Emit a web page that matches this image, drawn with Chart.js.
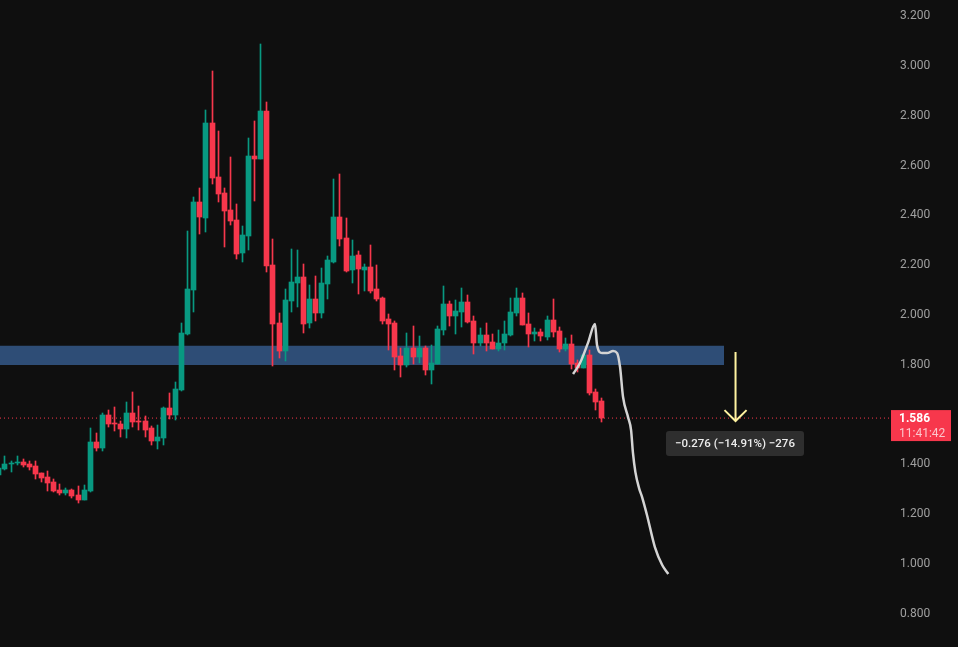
<!DOCTYPE html>
<html>
<head>
<meta charset="utf-8">
<title>Chart</title>
<script src="https://cdn.jsdelivr.net/npm/chart.js@4"></script>
<style>
  html, body { margin: 0; padding: 0; background: #0f0f0f; overflow: hidden; }
  canvas { display: block; }
</style>
</head>
<body>
<canvas id="chart" width="958" height="647"></canvas>
<script>
// price data, one entry per candle
const opens = [1.357,1.382,1.402,1.406,1.410,1.402,1.394,1.365,1.349,1.329,1.297,1.285,1.297,1.277,1.257,1.293,1.490,1.466,1.598,1.566,1.562,1.542,1.606,1.574,1.574,1.546,1.494,1.506,1.627,1.598,
  1.699,1.924,2.100,2.454,2.390,2.771,2.554,2.490,2.422,2.382,2.249,2.317,2.639,2.626,2.819,2.201,1.968,1.855,2.056,2.129,2.153,1.968,2.064,2.008,2.124,2.213,2.394,2.309,2.181,2.241,
  2.181,2.193,2.104,2.068,1.984,1.968,1.835,1.799,1.867,1.831,1.867,1.779,1.803,1.940,2.044,1.996,2.012,2.052,1.976,1.888,1.920,1.892,1.863,1.888,1.920,2.008,2.068,1.964,1.924,1.932,
  1.912,1.980,1.936,1.863,1.884,1.807,1.787,1.839,1.691,1.655];
const highs = [1.386,1.434,1.414,1.434,1.422,1.414,1.414,1.365,1.374,1.341,1.321,1.305,1.301,1.313,1.317,1.546,1.526,1.606,1.618,1.631,1.574,1.651,1.691,1.635,1.594,1.554,1.558,1.631,1.687,1.731,
  1.968,2.337,2.474,2.510,2.823,2.980,2.739,2.510,2.635,2.446,2.357,2.711,2.779,3.088,2.855,2.305,2.008,2.104,2.265,2.261,2.205,2.120,2.157,2.189,2.237,2.546,2.566,2.390,2.301,2.257,
  2.205,2.281,2.201,2.072,2.004,1.976,1.867,1.928,1.956,1.916,1.876,1.880,1.956,2.116,2.056,2.060,2.108,2.080,1.996,1.948,1.968,1.924,1.940,1.976,2.068,2.108,2.088,2.008,1.948,1.944,
  1.996,2.064,1.952,1.908,1.920,1.819,1.843,1.859,1.703,1.667];
const lows = [1.357,1.378,1.369,1.398,1.390,1.378,1.341,1.329,1.293,1.289,1.277,1.277,1.265,1.245,1.257,1.289,1.454,1.454,1.550,1.534,1.510,1.506,1.550,1.538,1.510,1.478,1.462,1.478,1.582,1.578,
  1.695,1.920,2.012,2.325,2.333,2.526,2.454,2.273,2.361,2.225,2.213,2.261,2.458,2.626,2.173,1.795,1.827,1.815,2.012,2.032,1.928,1.948,1.976,1.988,2.064,2.209,2.277,2.173,2.129,2.084,
  2.096,2.088,2.056,1.964,1.859,1.779,1.751,1.791,1.803,1.807,1.759,1.723,1.803,1.920,1.956,1.924,1.952,1.968,1.843,1.876,1.855,1.863,1.855,1.859,1.916,1.996,1.960,1.872,1.896,1.896,
  1.900,1.912,1.851,1.855,1.783,1.771,1.787,1.679,1.618,1.570];
const closes = [1.386,1.402,1.406,1.410,1.398,1.390,1.361,1.345,1.325,1.293,1.285,1.297,1.273,1.257,1.297,1.490,1.466,1.598,1.562,1.562,1.542,1.606,1.570,1.570,1.538,1.494,1.510,1.627,1.598,1.703,
  1.928,2.104,2.454,2.394,2.771,2.550,2.486,2.418,2.378,2.245,2.321,2.639,2.626,2.819,2.197,1.964,1.855,2.060,2.133,2.153,1.964,2.064,2.008,2.129,2.221,2.394,2.305,2.177,2.237,2.185,
  2.193,2.096,2.064,1.976,1.964,1.831,1.799,1.867,1.831,1.867,1.779,1.807,1.944,2.044,1.996,2.016,2.052,1.972,1.888,1.920,1.888,1.863,1.888,1.924,2.012,2.068,1.960,1.924,1.932,1.916,
  1.980,1.932,1.863,1.884,1.803,1.787,1.839,1.687,1.651,1.586];

const yTicks = [3.2, 3.0, 2.8, 2.6, 2.4, 2.2, 2.0, 1.8, 1.4, 1.2, 1.0, 0.8];

const zoneTop = 1.876;
const zoneBottom = 1.799;
const zoneEnd = 119.05;

const lastPrice = 1.586;
const countdown = '11:41:42';
const measureText = '\u22120.276 (\u221214.91%) \u2212276';

// hand drawn projection, candle index and price
const curveX = [94.26,95.41,96.72,97.87,98.2,99.02,99.85,100.83,101.5,101.98,102.47,103.29,103.79,104.1,104.5,105.1,105.6,106.4,107.7,108.9,109.9];
const curveY = [1.763,1.807,1.888,1.964,1.880,1.847,1.847,1.855,1.847,1.791,1.671,1.590,1.538,1.446,1.369,1.305,1.269,1.197,1.068,0.996,0.960];

const arrowX = [120.94, 120.94];
const arrowY = [1.851, 1.574];
const arrowHeadX = [119.13, 120.94, 122.75];
const arrowHeadY = [1.618, 1.574, 1.618];

const UP = '#089981';
const DOWN = '#f7374c';
const xMin = 0.1855;
const xMax = 146.3;

const colors = opens.map((o, i) => closes[i] >= o ? UP : DOWN);
const bodies = opens.map((o, i) => ({ x: i, y: [Math.min(o, closes[i]), Math.max(o, closes[i])] }));
const wicks = opens.map((o, i) => ({ x: i, y: [lows[i], highs[i]] }));
const toPoints = (xs, ys) => xs.map((x, i) => ({ x: x, y: ys[i] }));

// keep candles on whole pixels so they stay sharp
const snapBars = {
  id: 'snapBars',
  afterDatasetsUpdate(chart) {
    chart.getSortedVisibleDatasetMetas().forEach(meta => {
      if (meta.type !== 'bar') return;
      meta.data.forEach(bar => {
        bar.x = Math.floor(bar.x) + 0.5;
        bar.y = Math.round(bar.y);
        bar.base = Math.round(bar.base);
      });
    });
  }
};

// text boxes on top of the chart
const labelBoxes = {
  id: 'labelBoxes',
  afterDraw(chart) {
    const c = chart.ctx;
    const py = chart.scales.y.getPixelForValue(lastPrice);
    c.save();

    c.fillStyle = '#f7374c';
    c.fillRect(891, py - 8, 60, 31);
    c.textBaseline = 'middle';
    c.textAlign = 'left';
    c.font = 'bold 12px Roboto';
    c.fillStyle = '#ffffff';
    c.fillText(lastPrice.toFixed(3), 899, py + 1);
    c.font = '12px Roboto';
    c.fillStyle = '#fcc5cb';
    c.fillText(countdown, 899, py + 16);

    c.fillStyle = '#2e2e2e';
    c.beginPath();
    c.roundRect(666, py + 13, 138, 25, 3);
    c.fill();
    c.textAlign = 'center';
    c.font = '500 11.5px Roboto';
    c.fillStyle = '#ececec';
    c.fillText(measureText, 735, py + 26);

    c.restore();
  }
};

new Chart(document.getElementById('chart'), {
  type: 'bar',
  data: {
    datasets: [
      { type: 'line', data: toPoints(curveX, curveY), borderColor: '#d4d4d4', borderWidth: 2.5, cubicInterpolationMode: 'monotone', pointRadius: 0, order: 0 },
      { type: 'line', data: toPoints(arrowX, arrowY), borderColor: '#fff3a0', borderWidth: 2, pointRadius: 0, order: 0 },
      { type: 'line', data: toPoints(arrowHeadX, arrowHeadY), borderColor: '#fff3a0', borderWidth: 2, pointRadius: 0, order: 0 },
      { data: bodies, backgroundColor: colors, barThickness: 5, grouped: false, order: 1 },
      { data: wicks, backgroundColor: colors, barThickness: 1, grouped: false, order: 2 },
      { type: 'line', data: toPoints([xMin, xMax], [lastPrice, lastPrice]), borderColor: '#f7374c', borderWidth: 1, borderDash: [1, 3], pointRadius: 0, order: 3 },
      { type: 'line', data: toPoints([xMin, zoneEnd], [zoneTop, zoneTop]), borderWidth: 0, pointRadius: 0, fill: '+1', backgroundColor: '#2e4d76', order: 4 },
      { type: 'line', data: toPoints([xMin, zoneEnd], [zoneBottom, zoneBottom]), borderWidth: 0, pointRadius: 0, order: 4 }
    ]
  },
  options: {
    responsive: false,
    animation: false,
    layout: { padding: 0 },
    plugins: {
      legend: { display: false },
      title: { display: false },
      tooltip: { enabled: false }
    },
    scales: {
      x: {
        type: 'linear',
        display: false,
        offset: false,
        min: xMin,
        max: xMax
      },
      y: {
        position: 'right',
        min: 0.6667,
        max: 3.265,
        afterBuildTicks: (axis) => { axis.ticks = yTicks.map(v => ({ value: v })); },
        afterFit: (axis) => {
          axis.width = 68;
          axis.paddingTop = 0;
          axis.paddingBottom = 0;
        },
        grid: { display: false },
        border: { display: false },
        ticks: {
          align: 'center',
          crossAlign: 'near',
          padding: 2,
          autoSkip: false,
          color: '#a0a0a0',
          font: { family: 'Roboto', size: 12 },
          callback: (v) => v.toFixed(3)
        }
      }
    }
  },
  plugins: [snapBars, labelBoxes, {
    id: 'background',
    beforeDraw(chart) {
      chart.ctx.fillStyle = '#0f0f0f';
      chart.ctx.fillRect(0, 0, chart.width, chart.height);
    }
  }]
});
</script>
</body>
</html>
